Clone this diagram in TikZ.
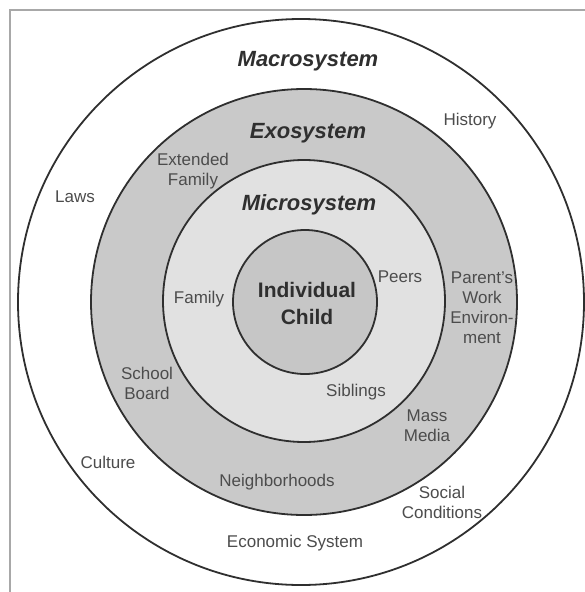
\documentclass[tikz,border=0pt]{standalone}
\usepackage{fontspec}
\setmainfont{Liberation Sans}
\usepackage{xcolor}
\definecolor{ecoink}{HTML}{2F2F2F}
\definecolor{ecogrey}{HTML}{4C4C4C}
\definecolor{ecoexo}{HTML}{C9C9C9}
\definecolor{ecomicro}{HTML}{E1E1E1}
\definecolor{ecocore}{HTML}{C6C6C6}
\definecolor{ecoframe}{HTML}{A8A8A8}
\usepackage{tikz}
\tikzset{
  ecoring/.style={circle,draw=ecoink,line width=1.8pt,inner sep=0pt},
  ecotitle/.style={font=\fontsize{22}{26}\selectfont\bfseries\itshape,text=ecoink,inner sep=0pt},
  ecochild/.style={font=\fontsize{21}{27}\selectfont\bfseries,text=ecoink,align=center,inner sep=0pt},
  ecolabel/.style={font=\fontsize{17}{20}\selectfont,text=ecogrey,align=center,inner sep=0pt},
}
\begin{document}
\begin{tikzpicture}[x=1pt,y=-1pt]
\useasboundingbox (0,0) rectangle (584,592);
 % frame and rings
\draw[ecoframe,line width=1.5pt] (10,640) -- (10,10) -- (640,10);
\node[ecoring,fill=white,minimum size=566pt] (macro) at (301,302) {};
\node[ecoring,fill=ecoexo,minimum size=426pt] (exo) at (304,302) {};
\node[ecoring,fill=ecomicro,minimum size=282pt] (micro) at (304,301) {};
\node[ecoring,fill=ecocore,minimum size=144pt] (core) at (305,302) {};
 % system names
\node[ecotitle] (macrotitle) at (308,61) {Macrosystem};
\node[ecotitle] (exotitle) at (308,133) {Exosystem};
\node[ecotitle] (microtitle) at (309,205) {Microsystem};
\node[ecochild] (child) at (307,303) {Individual\\Child};
 % macrosystem
\node[ecolabel] (history) at (470,121) {History};
\node[ecolabel] (laws) at (75,197) {Laws};
\node[ecolabel] (culture) at (108,462) {Culture};
\node[ecolabel] (social) at (442,502) {Social\\Conditions};
\node[ecolabel] (economic) at (295,543) {Economic System};
 % exosystem
\node[ecolabel] (extended) at (193,171) {Extended\\Family};
\node[ecolabel] (parents) at (482,308) {Parent's\\Work\\Environ-\\ment};
\node[ecolabel] (school) at (147,383) {School\\Board};
\node[ecolabel] (media) at (427,426) {Mass\\Media};
\node[ecolabel] (hoods) at (277,482) {Neighborhoods};
 % microsystem
\node[ecolabel] (family) at (199,299) {Family};
\node[ecolabel] (peers) at (400,277) {Peers};
\node[ecolabel] (siblings) at (356,392) {Siblings};
\end{tikzpicture}
\end{document}
